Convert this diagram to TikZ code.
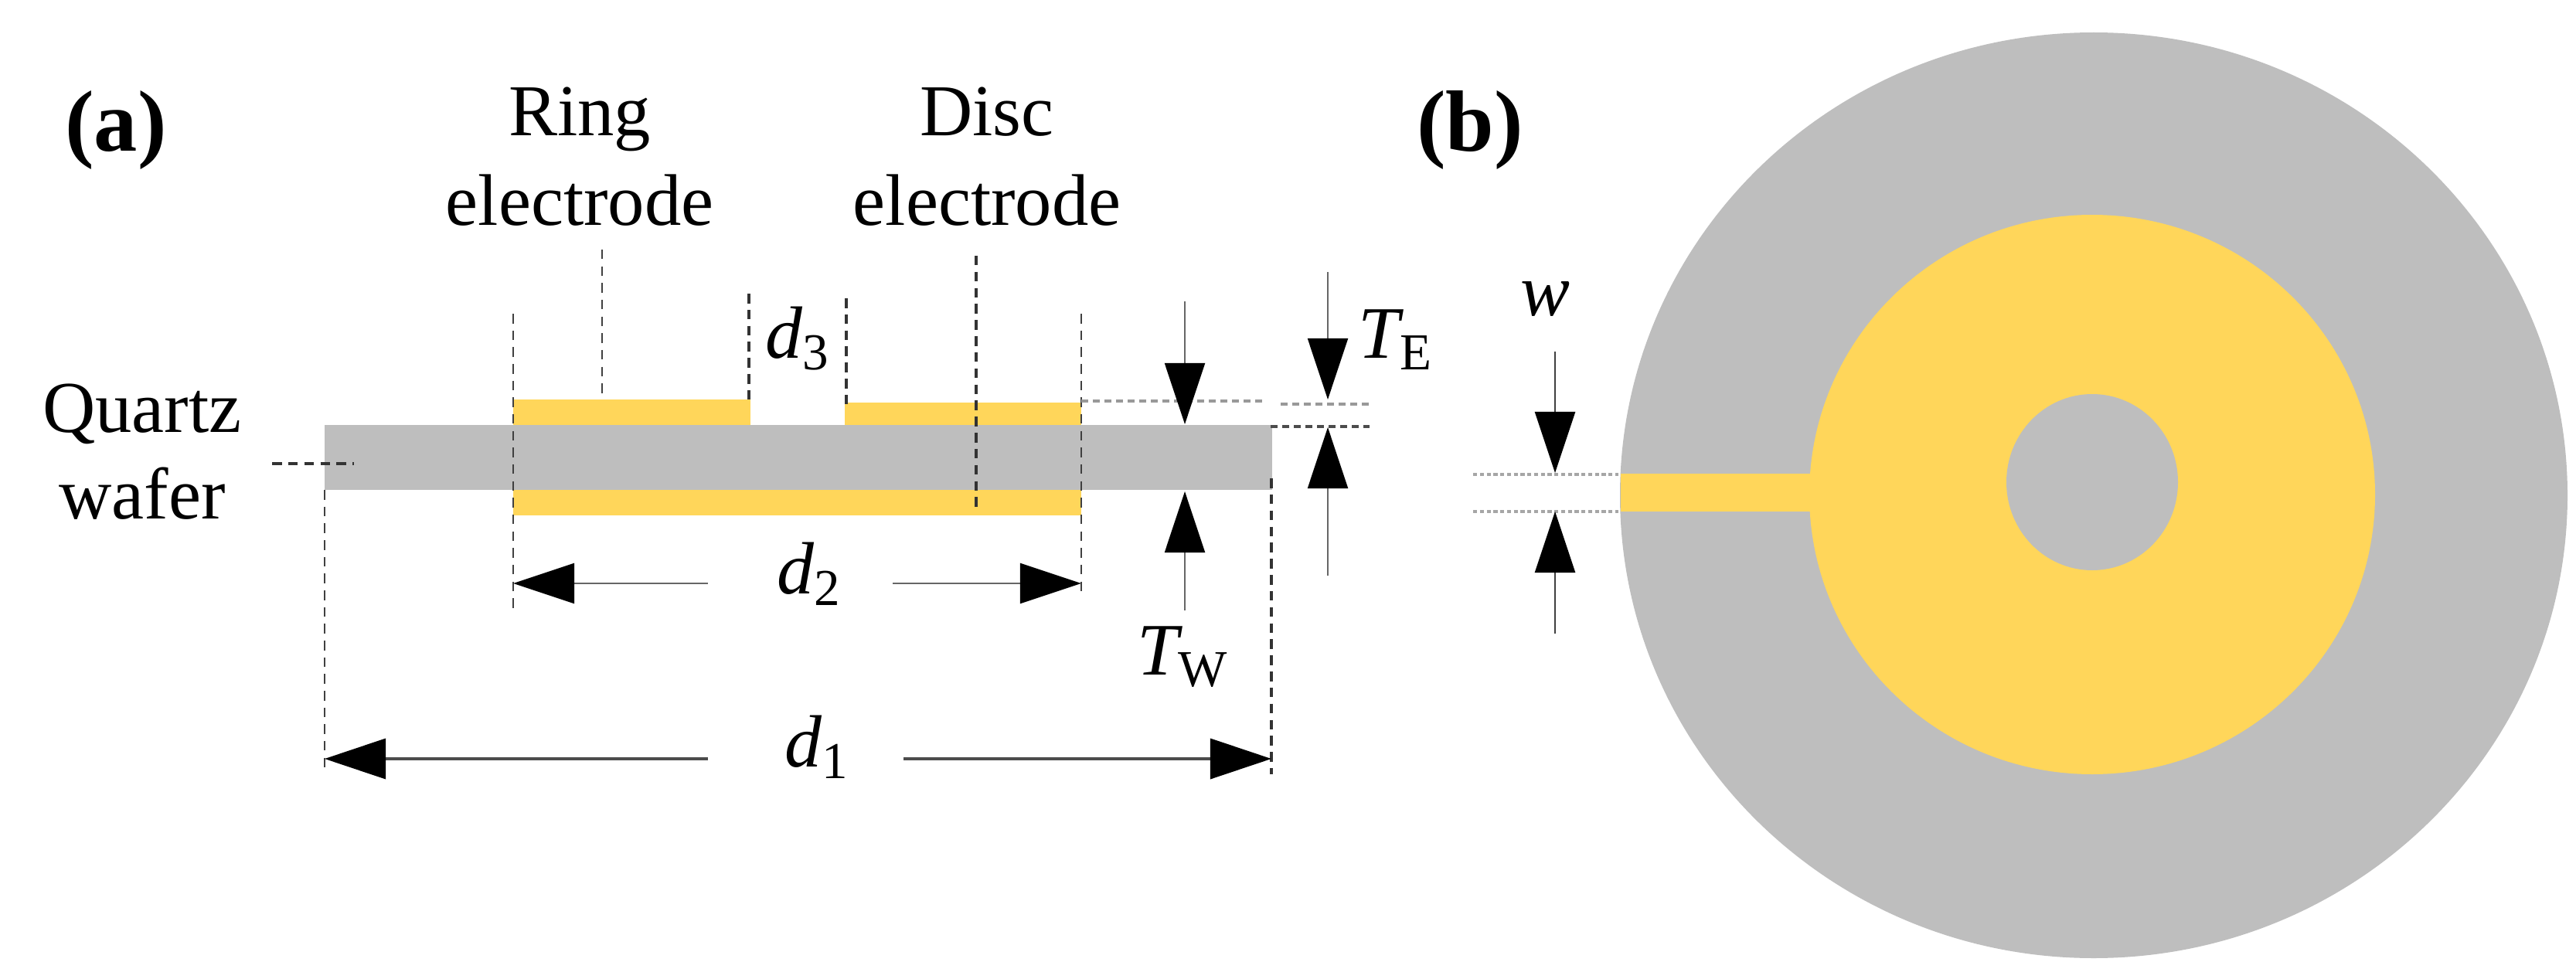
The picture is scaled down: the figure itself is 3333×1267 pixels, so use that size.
\documentclass[tikz,border=0pt]{standalone}
\usepackage{fontspec}
\setmainfont{Liberation Serif}
\usetikzlibrary{arrows.meta}
\definecolor{wafergray}{HTML}{BEBEBE}
\definecolor{goldfilm}{HTML}{FFD65A}
\definecolor{thinline}{HTML}{666666}
\tikzset{
  x=0.24pt,y=-0.24pt,
  lbl/.style={inner sep=0pt,outer sep=0pt,anchor=base,font=\fontsize{22.7}{24}\selectfont},
  sym/.style={lbl,font=\fontsize{23}{25}\selectfont\itshape},
  tag/.style={lbl,font=\fontsize{27}{29}\selectfont\bfseries},
  guide/.style={line width=0.5pt,draw=black!75,dash pattern=on 3pt off 2.2pt},
  heavyguide/.style={line width=0.8pt,draw=black!80,dash pattern=on 3pt off 2pt},
  hguide/.style={line width=0.8pt,draw=black!40,dash pattern=on 2.2pt off 1.4pt},
  fineguide/.style={line width=0.8pt,draw=black!35,dash pattern=on 1.3pt off 0.8pt},
  dimhead/.style={-{Triangle[length=19pt,width=12.5pt,color=black]},draw=thinline,line width=0.5pt},
  dimheadbold/.style={-{Triangle[length=19pt,width=12.5pt,color=black]},draw=black!70,line width=0.9pt},
  dimheadmid/.style={-{Triangle[length=19pt,width=12.5pt,color=black]},draw=black!75,line width=0.6pt},
}
\begin{document}
\begin{tikzpicture}
\useasboundingbox (0,0) rectangle (3333,1267);
% --- panel (a): section
\fill[wafergray] (420,550) rectangle (1646,634);
\fill[goldfilm] (664,517) rectangle (971,550);
\fill[goldfilm] (1093,521) rectangle (1399,550);
\fill[goldfilm] (664,634) rectangle (1399,667);
% --- panel (b): plan
\fill[wafergray] (2709,641) ellipse [x radius=613,y radius=599];
\fill[goldfilm] (2707,640) ellipse [x radius=366,y radius=362];
\fill[goldfilm] (2097,613) rectangle (2345,662);
\fill[wafergray] (2707,624) ellipse [x radius=111,y radius=114];
% --- labels
\node[tag] (a) at (150,196) {(a)};
\node[tag] (b) at (1902,196) {(b)};
\node[lbl] (ring1) at (750,176) {Ring};
\node[lbl] (ring2) at (750,291) {electrode};
\node[lbl] (disc1) at (1277,176) {Disc};
\node[lbl] (disc2) at (1277,291) {electrode};
\node[lbl] (qz1) at (184,559) {Quartz};
\node[lbl] (qz2) at (184,671) {wafer};
\node[sym] (d3) at (1032,463) {d\textsubscript{\upshape 3}};
\node[sym] (d2) at (1047,768) {d\textsubscript{\upshape 2}};
\node[sym] (d1) at (1057,992) {d\textsubscript{\upshape 1}};
\node[sym] (tw) at (1531,873) {T\textsubscript{\upshape W}};
\node[sym] (te) at (1806,463) {T\textsubscript{\upshape E}};
\node[sym] (wl) at (1999,408) {w};
% --- guide end points
\foreach \n/\x/\y in {
 r/779/323, rb/779/517, g1/969/380, g1b/969/517, g2/1095/386, g2b/1095/525,
 dt/1263/331, db/1263/656, l2t/664/406, l2b/664/792, r2t/1399/406, r2b/1399/772,
 ql/352/600, qr/458/600, l1t/420/634, l1b/420/1002, r1t/1645/619, r1b/1645/1002,
 te1/1399/519, te2/1638/519, te3/1657/523, te4/1772/523, te5/1644/552, te6/1772/552,
 w1/1906/614, w2/2094/614, w3/1906/662, w4/2094/662,
 d2l/664/755, d2la/916/755, d2ra/1155/755, d2r/1399/755,
 d1l/420/982, d1la/916/982, d1ra/1169/982, d1r/1645/982,
 twa/1533/390, twat/1533/549, twb/1533/790, twbt/1533/636,
 tea/1718/352, teat/1718/517, teb/1718/745, tebt/1718/553,
 wa/2012/455, wat/2012/612, wb/2012/820, wbt/2012/662}
 {\coordinate (\n) at (\x,\y);}
% --- dashed guides
\draw[guide] (r) -- (rb);
\draw[heavyguide] (g1) -- (g1b);
\draw[heavyguide] (g2) -- (g2b);
\draw[heavyguide] (dt) -- (db);
\draw[guide] (l2t) -- (l2b);
\draw[guide] (r2t) -- (r2b);
\draw[heavyguide] (ql) -- (qr);
\draw[guide] (l1t) -- (l1b);
\draw[heavyguide] (r1t) -- (r1b);
\draw[hguide] (te1) -- (te2);
\draw[hguide] (te3) -- (te4);
\draw[hguide,draw=black!70] (te5) -- (te6);
\draw[fineguide] (w1) -- (w2);
\draw[fineguide] (w3) -- (w4);
% --- dimension arrows
\draw[dimhead] (d2la) -- (d2l);
\draw[dimhead] (d2ra) -- (d2r);
\draw[dimheadbold] (d1la) -- (d1l);
\draw[dimheadbold] (d1ra) -- (d1r);
\draw[dimhead] (twa) -- (twat);
\draw[dimhead] (twb) -- (twbt);
\draw[dimhead] (tea) -- (teat);
\draw[dimhead] (teb) -- (tebt);
\draw[dimheadmid] (wa) -- (wat);
\draw[dimheadmid] (wb) -- (wbt);
\end{tikzpicture}
\end{document}
